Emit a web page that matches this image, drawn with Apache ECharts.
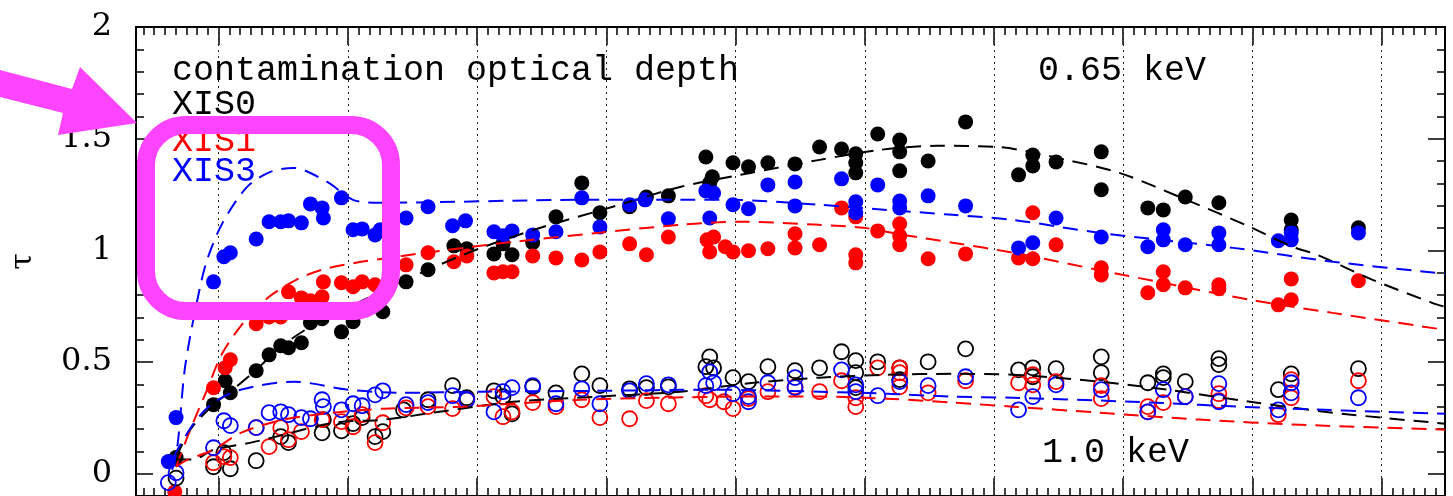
<!DOCTYPE html>
<html lang="en">
<head>
<meta charset="UTF-8" />
<title>Contamination optical depth</title>
<script src="https://cdn.jsdelivr.net/npm/echarts@6/dist/echarts.min.js"></script>
<style>
  html, body { margin: 0; padding: 0; background: #fff; }
  #chart { width: 1453px; height: 496px; }
</style>
</head>
<body>
<div id="chart"></div>
<script>
// dotted guide lines (one per year) and y tick labels
const gridYears = [2006, 2007, 2008, 2009, 2010, 2011, 2012, 2013, 2014, 2015];
const yTickLabels = [0, 0.5, 1, 1.5, 2];

// 0.65 keV measurements [year, tau]
const xis0Soft = [[2005.67,0.072],[2005.96,0.309],[2006.05,0.416],[2006.09,0.362],[2006.29,0.461],[2006.39,0.532],[2006.48,0.573],[2006.54,0.564],[2006.64,0.586],[2006.71,0.676],[2006.80,0.694],[2006.95,0.635],[2007.04,0.680],[2007.27,0.725],[2007.45,0.859],[2007.62,0.913],[2007.82,1.020],[2007.92,1.007],[2008.13,0.984],[2008.20,1.029],[2008.27,0.980],[2008.43,1.034],[2008.61,1.150],[2008.81,1.302],[2008.95,1.168],[2009.18,1.195],[2009.31,1.239],[2009.48,1.244],[2009.77,1.418],[2009.80,1.302],[2009.82,1.329],[2009.98,1.392],[2010.10,1.374],[2010.25,1.392],[2010.46,1.387],[2010.65,1.463],[2010.82,1.454],[2010.93,1.432],[2010.93,1.392],[2010.93,1.347],[2011.10,1.521],[2011.27,1.494],[2011.27,1.441],[2011.27,1.356],[2011.49,1.400],[2011.78,1.575],[2012.19,1.338],[2012.30,1.427],[2012.30,1.378],[2012.48,1.396],[2012.83,1.441],[2012.83,1.271],[2013.19,1.190],[2013.31,1.181],[2013.48,1.239],[2013.74,1.213],[2014.30,1.136],[2014.30,1.092],[2014.82,1.101]];
const xis1Soft = [[2005.66,-0.081],[2005.96,0.385],[2006.05,0.474],[2006.09,0.510],[2006.29,0.671],[2006.39,0.702],[2006.48,0.702],[2006.54,0.814],[2006.64,0.787],[2006.71,0.774],[2006.80,0.792],[2006.81,0.859],[2006.95,0.855],[2007.04,0.837],[2007.11,0.859],[2007.21,0.846],[2007.45,0.935],[2007.62,0.989],[2007.82,0.949],[2007.92,0.975],[2008.13,0.899],[2008.20,0.904],[2008.27,0.904],[2008.43,0.975],[2008.61,0.966],[2008.81,0.957],[2008.95,0.993],[2009.18,1.029],[2009.31,0.980],[2009.48,1.060],[2009.78,1.047],[2009.83,1.060],[2009.80,0.993],[2009.92,1.016],[2009.98,0.993],[2010.10,0.998],[2010.25,1.007],[2010.46,1.074],[2010.46,1.011],[2010.65,1.025],[2010.82,1.190],[2010.93,1.150],[2010.93,0.980],[2010.93,0.944],[2011.10,1.087],[2011.27,1.119],[2011.27,1.065],[2011.27,1.025],[2011.49,0.962],[2011.78,0.984],[2012.19,0.966],[2012.30,1.168],[2012.30,0.962],[2012.48,1.025],[2012.83,0.922],[2012.83,0.890],[2013.19,0.810],[2013.31,0.904],[2013.31,0.846],[2013.48,0.832],[2013.74,0.846],[2013.74,0.828],[2014.20,0.756],[2014.30,0.872],[2014.30,0.779],[2014.82,0.864]];
const xis3Soft = [[2005.61,0.054],[2005.67,0.251],[2005.96,0.859],[2006.04,0.971],[2006.09,0.989],[2006.29,1.051],[2006.39,1.128],[2006.48,1.128],[2006.54,1.132],[2006.64,1.123],[2006.71,1.208],[2006.80,1.190],[2006.81,1.145],[2006.95,1.235],[2007.04,1.092],[2007.11,1.096],[2007.21,1.069],[2007.25,1.092],[2007.45,1.145],[2007.62,1.195],[2007.81,1.110],[2007.91,1.132],[2008.13,1.083],[2008.20,1.065],[2008.27,1.087],[2008.43,1.069],[2008.61,1.083],[2008.81,1.235],[2008.95,1.105],[2009.18,1.204],[2009.30,1.226],[2009.48,1.141],[2009.77,1.266],[2009.83,1.257],[2009.80,1.145],[2009.98,1.204],[2010.10,1.186],[2010.25,1.293],[2010.46,1.306],[2010.46,1.199],[2010.82,1.320],[2010.93,1.217],[2010.93,1.168],[2011.10,1.293],[2011.27,1.221],[2011.27,1.190],[2011.49,1.244],[2011.78,1.199],[2012.19,1.011],[2012.30,1.034],[2012.48,1.145],[2012.83,1.060],[2013.19,1.016],[2013.31,1.092],[2013.31,1.047],[2013.48,1.025],[2013.74,1.078],[2013.74,1.025],[2014.20,1.043],[2014.30,1.078],[2014.30,1.047],[2014.82,1.078]];

// 1.0 keV measurements [year, tau]
const xis0Hard = [[2005.67,-0.020],[2005.96,0.031],[2006.04,0.094],[2006.09,0.022],[2006.29,0.058],[2006.48,0.166],[2006.54,0.139],[2006.80,0.183],[2006.81,0.242],[2006.95,0.192],[2007.04,0.224],[2007.11,0.251],[2007.21,0.166],[2007.27,0.188],[2007.43,0.286],[2007.62,0.331],[2007.81,0.394],[2007.92,0.340],[2008.13,0.371],[2008.20,0.345],[2008.27,0.268],[2008.43,0.389],[2008.61,0.362],[2008.81,0.447],[2008.95,0.394],[2009.18,0.380],[2009.31,0.385],[2009.48,0.389],[2009.80,0.523],[2009.77,0.479],[2009.83,0.474],[2009.98,0.430],[2010.10,0.412],[2010.25,0.479],[2010.46,0.461],[2010.65,0.474],[2010.82,0.546],[2010.93,0.506],[2010.93,0.452],[2010.93,0.385],[2011.10,0.501],[2011.27,0.474],[2011.27,0.421],[2011.49,0.501],[2011.78,0.559],[2012.19,0.465],[2012.30,0.474],[2012.30,0.434],[2012.48,0.470],[2012.83,0.523],[2012.83,0.452],[2013.19,0.407],[2013.31,0.447],[2013.31,0.430],[2013.48,0.412],[2013.74,0.515],[2013.74,0.488],[2014.20,0.376],[2014.30,0.447],[2014.82,0.470]];
const xis1Hard = [[2005.96,0.049],[2006.04,0.076],[2006.09,0.072],[2006.29,0.206],[2006.39,0.121],[2006.48,0.206],[2006.54,0.152],[2006.64,0.188],[2006.80,0.242],[2006.95,0.233],[2007.04,0.210],[2007.11,0.264],[2007.21,0.139],[2007.27,0.228],[2007.45,0.295],[2007.62,0.300],[2007.81,0.291],[2007.92,0.331],[2008.13,0.345],[2008.20,0.255],[2008.27,0.277],[2008.43,0.318],[2008.61,0.300],[2008.81,0.331],[2008.95,0.251],[2009.18,0.246],[2009.31,0.327],[2009.48,0.313],[2009.77,0.349],[2009.80,0.331],[2009.91,0.322],[2009.98,0.291],[2010.10,0.336],[2010.25,0.367],[2010.46,0.389],[2010.65,0.367],[2010.82,0.416],[2010.93,0.340],[2010.93,0.300],[2011.10,0.474],[2011.27,0.474],[2011.27,0.452],[2011.27,0.389],[2011.49,0.362],[2011.78,0.416],[2012.19,0.407],[2012.30,0.443],[2012.30,0.398],[2012.48,0.412],[2012.83,0.394],[2012.83,0.336],[2013.19,0.300],[2013.19,0.277],[2013.31,0.318],[2013.48,0.345],[2013.74,0.358],[2013.74,0.327],[2014.20,0.264],[2014.30,0.421],[2014.30,0.340],[2014.82,0.416]];
const xis3Hard = [[2005.61,-0.040],[2005.67,0.004],[2005.96,0.116],[2006.04,0.237],[2006.09,0.215],[2006.29,0.206],[2006.39,0.273],[2006.48,0.277],[2006.54,0.264],[2006.64,0.251],[2006.71,0.246],[2006.80,0.331],[2006.81,0.300],[2006.95,0.286],[2007.04,0.313],[2007.11,0.304],[2007.21,0.353],[2007.27,0.371],[2007.45,0.309],[2007.62,0.318],[2007.81,0.349],[2007.92,0.331],[2008.13,0.277],[2008.20,0.367],[2008.27,0.385],[2008.43,0.394],[2008.61,0.313],[2008.81,0.380],[2008.95,0.313],[2009.18,0.371],[2009.31,0.403],[2009.48,0.398],[2009.80,0.456],[2009.83,0.407],[2009.77,0.394],[2009.98,0.358],[2010.10,0.345],[2010.10,0.322],[2010.25,0.407],[2010.46,0.430],[2010.46,0.385],[2010.82,0.465],[2010.93,0.398],[2010.93,0.367],[2011.10,0.349],[2011.27,0.412],[2011.49,0.394],[2011.78,0.434],[2012.19,0.286],[2012.30,0.345],[2012.48,0.398],[2012.83,0.376],[2013.19,0.277],[2013.31,0.376],[2013.48,0.345],[2013.74,0.403],[2013.74,0.322],[2014.20,0.286],[2014.30,0.407],[2014.30,0.362],[2014.82,0.340]];

// model curves (dashed)
const xis0SoftModel = [[2005.67,0.072],[2005.78,0.197],[2005.96,0.309],[2006.09,0.367],[2006.29,0.465],[2006.48,0.568],[2006.71,0.658],[2006.94,0.725],[2007.25,0.814],[2007.62,0.913],[2008.03,1.011],[2008.49,1.101],[2009.05,1.195],[2009.57,1.284],[2010.04,1.338],[2010.65,1.405],[2011.12,1.450],[2011.56,1.468],[2012.02,1.463],[2012.56,1.405],[2012.97,1.347],[2013.49,1.226],[2013.98,1.105],[2014.31,1.016],[2014.50,0.980],[2014.93,0.868],[2015.39,0.765],[2015.49,0.747]];
const xis1SoftModel = [[2005.67,0.031],[2005.78,0.197],[2005.90,0.362],[2006.03,0.541],[2006.21,0.689],[2006.39,0.792],[2006.60,0.868],[2006.80,0.913],[2007.06,0.944],[2007.31,0.966],[2007.77,1.002],[2008.28,1.038],[2008.93,1.078],[2009.57,1.114],[2010.04,1.128],[2010.65,1.114],[2010.99,1.101],[2011.30,1.069],[2011.68,1.034],[2012.15,0.989],[2013.00,0.890],[2013.98,0.779],[2014.62,0.720],[2015.49,0.644]];
const xis3SoftModel = [[2005.64,0.018],[2005.68,0.121],[2005.74,0.479],[2005.84,0.792],[2005.91,0.957],[2006.03,1.123],[2006.22,1.284],[2006.40,1.351],[2006.58,1.369],[2006.84,1.306],[2007.04,1.226],[2007.25,1.213],[2008.80,1.226],[2009.96,1.226],[2010.65,1.204],[2011.17,1.181],[2011.68,1.159],[2012.15,1.136],[2012.82,1.078],[2013.85,1.011],[2014.62,0.949],[2015.49,0.895]];
const xis0HardModel = [[2005.67,0.063],[2005.80,0.063],[2005.96,0.107],[2006.25,0.139],[2006.50,0.174],[2006.89,0.228],[2007.28,0.242],[2007.66,0.273],[2008.28,0.322],[2008.93,0.345],[2009.57,0.367],[2010.14,0.407],[2010.65,0.430],[2011.17,0.443],[2011.68,0.447],[2012.15,0.443],[2012.82,0.412],[2013.34,0.376],[2013.98,0.322],[2014.62,0.273],[2015.49,0.224]];
const xis1HardModel = [[2005.67,0.031],[2005.76,0.063],[2005.96,0.107],[2006.17,0.183],[2006.50,0.242],[2006.89,0.273],[2007.28,0.291],[2007.89,0.300],[2008.80,0.331],[2009.44,0.340],[2010.04,0.345],[2010.65,0.345],[2011.17,0.336],[2011.68,0.318],[2012.15,0.300],[2012.82,0.273],[2013.59,0.242],[2014.37,0.219],[2015.49,0.197]];
const xis3HardModel = [[2005.65,0.076],[2005.81,0.228],[2005.96,0.318],[2006.17,0.376],[2006.58,0.412],[2007.00,0.376],[2007.41,0.362],[2008.03,0.367],[2008.93,0.371],[2009.83,0.376],[2010.65,0.367],[2011.17,0.358],[2011.68,0.345],[2012.15,0.340],[2013.07,0.322],[2014.11,0.295],[2015.49,0.268]];

const X_MIN = 2005.36, X_MAX = 2015.49;
const Y_MIN = -0.1, Y_MAX = 2;
const BLACK = '#000000', RED = '#ff0000', BLUE = '#0000ff', MAGENTA = '#ff44ff';
const MONO = '"Liberation Mono", monospace';

// monthly minor ticks along time, tenths along tau
const monthTicks = [];
for (let m = Math.ceil(X_MIN * 12); m <= X_MAX * 12; m++) monthTicks.push(m / 12);
const tenthTicks = [];
for (let i = -1; i <= 20; i++) tenthTicks.push(i / 10);

function xAx(pos, ticks, len) {
  return {
    type: 'value', position: pos, min: X_MIN, max: X_MAX,
    axisLine: { show: true, onZero: false, lineStyle: { color: '#000', width: 2 } },
    axisTick: { show: true, inside: true, length: len, customValues: ticks, lineStyle: { color: '#000', width: 1.5 } },
    axisLabel: { show: false },
    splitLine: { show: false }
  };
}
function yAx(pos, ticks, len, labels) {
  return {
    type: 'value', position: pos, min: Y_MIN, max: Y_MAX,
    name: labels ? 'τ' : '', nameLocation: 'middle', nameRotate: 90, nameGap: 98,
    nameTextStyle: { fontFamily: 'DejaVu Serif', fontSize: 30, color: '#000' },
    axisLine: { show: true, onZero: false, lineStyle: { color: '#000', width: 2 } },
    axisTick: { show: true, inside: true, length: len, customValues: ticks, lineStyle: { color: '#000', width: 1.5 } },
    axisLabel: { show: labels, customValues: yTickLabels, margin: 24, fontFamily: 'DejaVu Serif', fontSize: 32, color: '#000', formatter: v => String(v) },
    splitLine: { show: false }
  };
}

function points(name, data, color, open) {
  return {
    name, type: 'scatter', data, symbol: 'circle', z: 3,
    symbolSize: 15,
    itemStyle: open
      ? { color: 'rgba(0,0,0,0)', borderColor: color, borderWidth: 1.8, opacity: 1 }
      : { color, opacity: 1 },
    silent: true
  };
}
function model(name, data, color) {
  return {
    name, type: 'line', data, smooth: 0.3, showSymbol: false, z: 4,
    lineStyle: { color, width: 2, type: [15, 9] },
    silent: true
  };
}

const series = [
  points('XIS0 0.65', xis0Soft, BLACK, false),
  points('XIS1 0.65', xis1Soft, RED, false),
  points('XIS3 0.65', xis3Soft, BLUE, false),
  points('XIS0 1.0', xis0Hard, BLACK, true),
  points('XIS1 1.0', xis1Hard, RED, true),
  points('XIS3 1.0', xis3Hard, BLUE, true),
  model('XIS0 0.65 model', xis0SoftModel, BLACK),
  model('XIS1 0.65 model', xis1SoftModel, RED),
  model('XIS3 0.65 model', xis3SoftModel, BLUE),
  model('XIS0 1.0 model', xis0HardModel, BLACK),
  model('XIS1 1.0 model', xis1HardModel, RED),
  model('XIS3 1.0 model', xis3HardModel, BLUE)
];
// yearly dotted guides hang off the first model line
series[6].markLine = {
  silent: true, symbol: ['none', 'none'], label: { show: false }, z: 1,
  lineStyle: { color: '#222', width: 1, type: [2, 4] },
  data: gridYears.map(y => ({ xAxis: y }))
};

function label(text, x, y, color) {
  return {
    type: 'text', z: 50,
    style: { text, x, y, font: '35px ' + MONO, fill: color,
      align: 'left', verticalAlign: 'middle', textAlign: 'left', textVerticalAlign: 'middle' }
  };
}

const chart = echarts.init(document.getElementById('chart'));
chart.setOption({
  animation: false,
  backgroundColor: '#fff',
  grid: { left: 135, top: 27, width: 1310, height: 469, containLabel: false },
  xAxis: [xAx('bottom', gridYears, 18), xAx('bottom', monthTicks, 8), xAx('top', gridYears, 18), xAx('top', monthTicks, 8)],
  yAxis: [yAx('left', yTickLabels, 17, true), yAx('left', tenthTicks, 8, false), yAx('right', yTickLabels, 17, false), yAx('right', tenthTicks, 8, false)],
  series,
  graphic: [
    label('contamination optical depth', 172, 71, BLACK),
    label('XIS0', 172, 105, BLACK),
    label('XIS1', 172, 142, RED),
    label('XIS3', 172, 172, BLUE),
    label('0.65 keV', 1038, 71, BLACK),
    label('1.0 keV', 1042, 453, BLACK),
    {
      type: 'rect', z: 100, silent: true,
      shape: { x: 146, y: 125, width: 245, height: 186, r: 40 },
      style: { fill: 'none', stroke: MAGENTA, lineWidth: 18 }
    },
    {
      type: 'polygon', z: 100, silent: true,
      shape: { points: [[0, 70], [72, 89], [80, 67], [137, 123], [58, 135], [63, 113], [0, 97]] },
      style: { fill: MAGENTA }
    }
  ]
});
</script>
</body>
</html>
